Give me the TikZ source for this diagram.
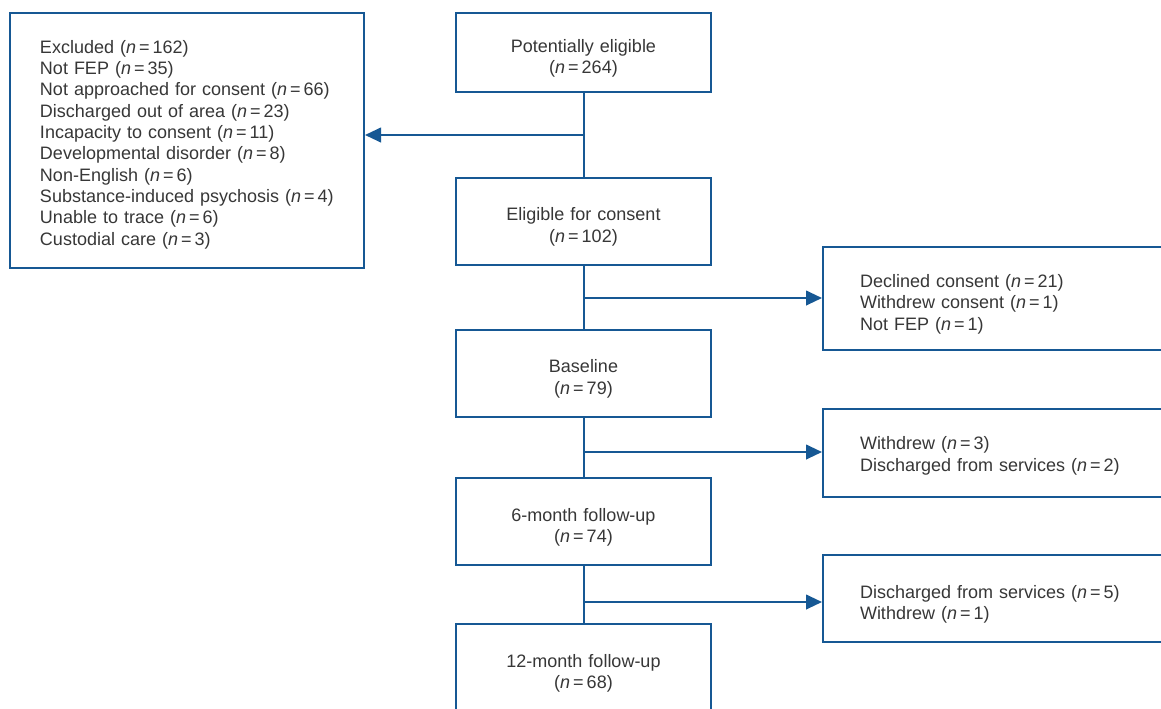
\documentclass[tikz,border=0pt]{standalone}
\usepackage{fontspec}
\setmainfont{Liberation Sans}
\usetikzlibrary{arrows.meta}
\definecolor{lineblue}{RGB}{22,88,148}
\definecolor{textgray}{RGB}{55,55,55}
\def\px{0.75pt}
\newcommand{\nn}[1]{(\textit{n}\,=\,#1)}
\begin{document}
\begin{tikzpicture}[x=0.75pt,y=-0.75pt,
  font=\fontsize{13.5}{16}\selectfont,
  box/.style={draw=lineblue,line width=1.5pt,rectangle,text=textgray,inner sep=0pt},
  lower/.style={execute at begin node={\rule{0pt}{#1}}},
  lower/.default=18.5pt,
  mainbox/.style={box,text width={255*\px},minimum height={87*\px},align=center,lower},
  sidebox/.style={box,anchor=west,inner xsep={37*\px},text width={306*\px},align=left},
  conn/.style={draw=lineblue,line width=1.5pt},
  arr/.style={conn,-{Triangle[length=12pt,width=11pt]}}]
\clip (0,0) rectangle (1161,708);
\fill[white] (0,0) rectangle (1161,708);

\node[box,inner xsep={30*\px},text width={294*\px},minimum height={255*\px},align=left,lower=16pt] (excl) at (187,140.5) {Excluded \nn{162}\\Not FEP \nn{35}\\Not approached for consent \nn{66}\\Discharged out of area \nn{23}\\Incapacity to consent \nn{11}\\Developmental disorder \nn{8}\\Non-English \nn{6}\\\mbox{Substance-induced psychosis \nn{4}}\\Unable to trace \nn{6}\\Custodial care \nn{3}};

\node[mainbox,minimum height={79*\px}] (pe) at (583.5,52.5) {Potentially eligible\\\nn{264}};
\node[mainbox] (el) at (583.5,221) {Eligible for consent\\\nn{102}};
\node[mainbox] (bl) at (583.5,373) {Baseline\\\nn{79}};
\node[mainbox] (m6) at (583.5,521.5) {6-month follow-up\\\nn{74}};
\node[mainbox] (m12) at (583.5,667.5) {12-month follow-up\\\nn{68}};

\node[sidebox,lower,minimum height={103*\px}] (r1) at (822,298.5) {Declined consent \nn{21}\\Withdrew consent \nn{1}\\Not FEP \nn{1}};
\node[sidebox,lower=14pt,minimum height={88*\px}] (r2) at (822,453) {Withdrew \nn{3}\\Discharged from services \nn{2}};
\node[sidebox,lower,minimum height={87*\px}] (r3) at (822,598.5) {Discharged from services \nn{5}\\Withdrew \nn{1}};

\coordinate (b1) at (583.5,135);
\coordinate (b2) at (583.5,298);
\coordinate (b3) at (583.5,452);
\coordinate (b4) at (583.5,602);

\draw[conn] (pe.south) -- (el.north);
\draw[conn] (el.south) -- (bl.north);
\draw[conn] (bl.south) -- (m6.north);
\draw[conn] (m6.south) -- (m12.north);
\draw[arr] (b1) -- (b1 -| excl.east);
\draw[arr] (b2) -- (b2 -| r1.west);
\draw[arr] (b3) -- (b3 -| r2.west);
\draw[arr] (b4) -- (b4 -| r3.west);
\end{tikzpicture}
\end{document}
